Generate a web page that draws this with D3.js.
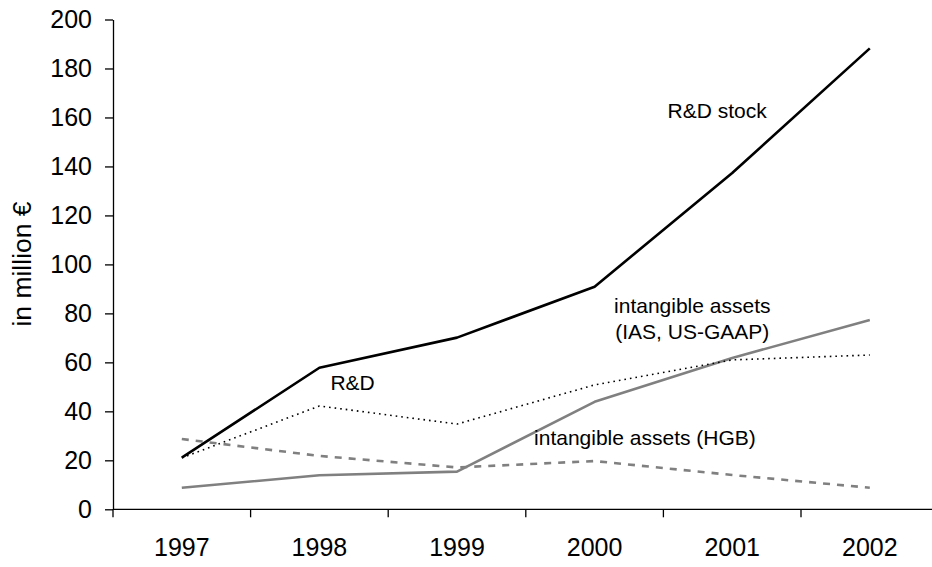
<!DOCTYPE html>
<html>
<head>
<meta charset="utf-8">
<script src="https://cdn.jsdelivr.net/npm/d3@7"></script>
<style>
  body { margin: 0; background: #fff; }
  svg { display: block; font-family: "Liberation Sans", Arial, sans-serif; }
</style>
</head>
<body>
<svg id="chart" width="932" height="567"></svg>
<script>
const years = ["1997", "1998", "1999", "2000", "2001", "2002"];
const rdStock = [21.1, 57.8, 70.1, 90.9, 137.3, 188.2];
const rd = [21, 42.2, 34.8, 50.8, 61, 63];
const intangibleIAS = [8.8, 13.9, 15.4, 43.9, 61.8, 77.3];
const intangibleHGB = [28.7, 21.8, 17.1, 19.7, 14, 8.8];
const yTicks = [0, 20, 40, 60, 80, 100, 120, 140, 160, 180, 200];

// annotation anchors in data units (x = category index, y = value)
const labels = [
    { lines: ["R&D stock"], ix: 3.53, v: 159.8, anchor: "start" },
    { lines: ["R&D"], ix: 1.08, v: 48.7, anchor: "start" },
    { lines: ["intangible assets", "(IAS, US-GAAP)"], ix: 3.71, v: 80.2, anchor: "middle" },
    { lines: ["intangible assets (HGB)"], ix: 2.56, v: 26.3, anchor: "start" },
];

const plotLeft = 113, plotTop = 19.5, plotBottom = 509.3, bandW = 137.6;
const svg = d3.select("#chart");

const x = d3.scaleBand().domain(years).range([plotLeft, plotLeft + bandW * years.length]);
const xi = d3.scaleLinear().domain([-0.5, years.length - 0.5]).range([plotLeft, plotLeft + bandW * years.length]);
const y = d3.scaleLinear().domain([0, 200]).range([plotBottom, plotTop]);

// y axis
const yAxis = svg.append("g")
    .attr("transform", `translate(${plotLeft},0)`)
    .call(d3.axisLeft(y).tickValues(yTicks).tickSize(8).tickSizeOuter(0).tickPadding(13));
yAxis.selectAll("text").style("font-size", "25px").style("fill", "#000")
    .style("font-family", "'Liberation Sans', Arial, sans-serif");
yAxis.selectAll("line, path").style("stroke", "#000").style("stroke-width", 1.3);

// x axis: line, ticks at category boundaries, labels centred
svg.append("line")
    .attr("x1", plotLeft).attr("x2", 932)
    .attr("y1", plotBottom).attr("y2", plotBottom)
    .style("stroke", "#000").style("stroke-width", 1.3);

svg.selectAll(".xtick")
    .data(years)
    .enter().append("line")
    .attr("class", "xtick")
    .attr("x1", d => x(d)).attr("x2", d => x(d))
    .attr("y1", plotBottom).attr("y2", plotBottom + 8)
    .style("stroke", "#000").style("stroke-width", 1.3);

svg.selectAll(".xlabel")
    .data(years)
    .enter().append("text")
    .attr("class", "xlabel")
    .attr("x", d => x(d) + x.bandwidth() / 2)
    .attr("y", 556)
    .attr("text-anchor", "middle")
    .style("font-size", "25px")
    .text(d => d);

// y title
svg.append("text")
    .attr("transform", "translate(31,264) rotate(-90)")
    .attr("text-anchor", "middle")
    .style("font-size", "26.5px")
    .text("in million €");

const line = d3.line()
    .x((d, i) => x(years[i]) + x.bandwidth() / 2)
    .y(d => y(d));

const series = [
    { values: intangibleHGB, color: "#808080", width: 2.6, dash: "7,7" },
    { values: intangibleIAS, color: "#808080", width: 2.6, dash: null },
    { values: rd, color: "#000", width: 1.6, dash: "1.6,4" },
    { values: rdStock, color: "#000", width: 2.6, dash: null },
];

svg.selectAll(".series")
    .data(series)
    .enter().append("path")
    .attr("class", "series")
    .attr("d", d => line(d.values))
    .style("fill", "none")
    .style("stroke", d => d.color)
    .style("stroke-width", d => d.width)
    .style("stroke-dasharray", d => d.dash)
    .style("stroke-linejoin", "round");

const lab = svg.selectAll(".anno")
    .data(labels)
    .enter().append("text")
    .attr("class", "anno")
    .attr("text-anchor", d => d.anchor)
    .style("font-size", "21px");

lab.selectAll("tspan")
    .data(d => d.lines.map((t, k) => ({ t, k, d })))
    .enter().append("tspan")
    .attr("x", o => xi(o.d.ix))
    .attr("y", o => y(o.d.v) + o.k * 26)
    .text(o => o.t);
</script>
</body>
</html>
